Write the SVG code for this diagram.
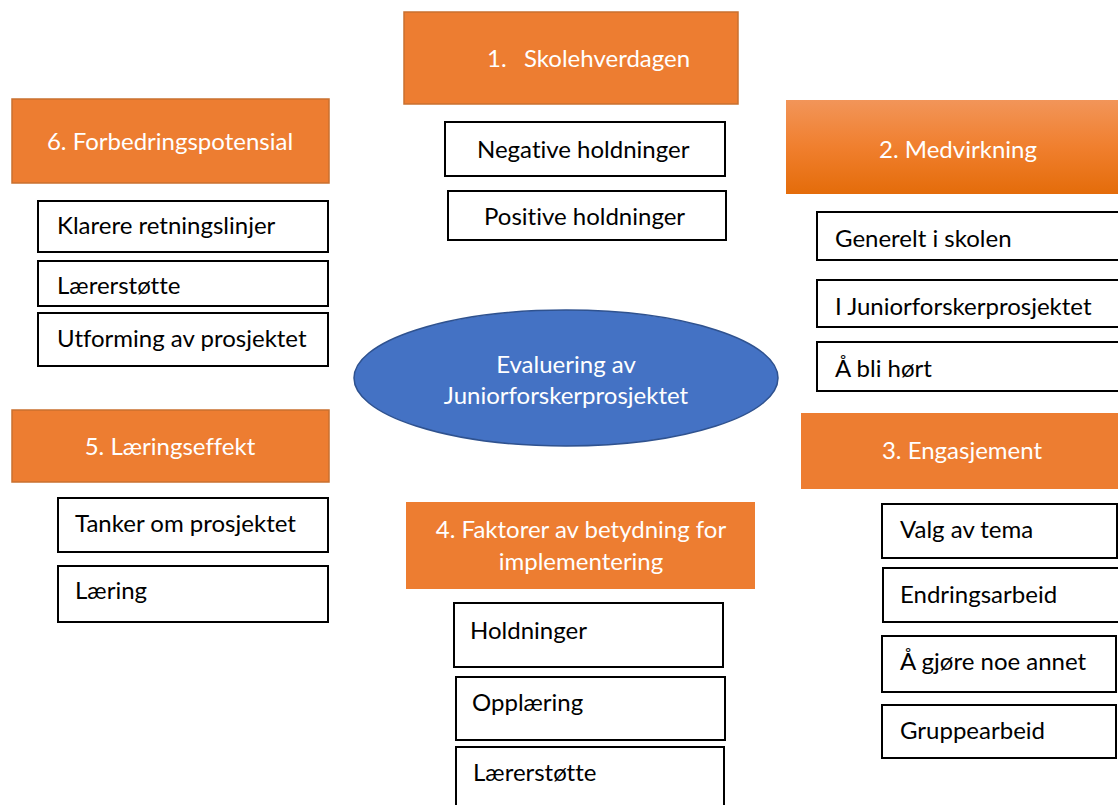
<svg xmlns="http://www.w3.org/2000/svg" width="1118" height="805" viewBox="0 0 1118 805">
<defs>
<linearGradient id="grad2" x1="0" y1="0" x2="0" y2="1">
<stop offset="0" stop-color="#F29559"/>
<stop offset="0.5" stop-color="#F07F2E"/>
<stop offset="1" stop-color="#E46C0A"/>
</linearGradient>
</defs>
<style>
.hdr{fill:#ED7D31;stroke:#C9702F;stroke-width:1.5}
.hdrn{fill:#ED7D31}
.item{fill:#FFFFFF;stroke:#000000;stroke-width:2}
.ht{font-family:Lato,"Liberation Sans",sans-serif;font-size:24px;fill:#FFFFFF;font-variant-ligatures:none}
.it{font-family:Lato,"Liberation Sans",sans-serif;font-size:24px;fill:#000000;font-variant-ligatures:none}
.c{text-anchor:middle}
</style>
<rect width="1118" height="805" fill="#FFFFFF"/>
<g id="connectors"></g>

<g id="n1">
<rect class="hdr" x="404" y="12" width="334" height="92"/>
<text class="ht" x="487" y="67">1.<tspan x="524">Skolehverdagen</tspan></text>
</g>
<g id="n1a">
<rect class="item" x="445" y="122" width="280" height="54"/>
<text class="it" x="477" y="158">Negative holdninger</text>
</g>
<g id="n1b">
<rect class="item" x="448" y="191" width="278" height="49"/>
<text class="it" x="484" y="225">Positive holdninger</text>
</g>

<g id="n2">
<rect fill="url(#grad2)" x="786" y="100" width="334" height="94"/>
<text class="ht c" x="958" y="158">2. Medvirkning</text>
</g>
<g id="n2a">
<rect class="item" x="817" y="212" width="305" height="48"/>
<text class="it" x="835" y="247">Generelt i skolen</text>
</g>
<g id="n2b">
<rect class="item" x="817" y="280" width="305" height="47"/>
<text class="it" x="835" y="315">I Juniorforskerprosjektet</text>
</g>
<g id="n2c">
<rect class="item" x="817" y="342" width="305" height="49"/>
<text class="it" x="835" y="377">Å bli hørt</text>
</g>

<g id="n6">
<rect class="hdr" x="12" y="99" width="317" height="84"/>
<text class="ht c" x="170" y="150">6. Forbedringspotensial</text>
</g>
<g id="n6a">
<rect class="item" x="38" y="201" width="290" height="51"/>
<text class="it" x="57" y="234">Klarere retningslinjer</text>
</g>
<g id="n6b">
<rect class="item" x="38" y="261" width="290" height="45"/>
<text class="it" x="57" y="294">Lærerstøtte</text>
</g>
<g id="n6c">
<rect class="item" x="38" y="313" width="290" height="53"/>
<text class="it" x="57" y="347">Utforming av prosjektet</text>
</g>

<g id="center">
<ellipse cx="566" cy="378" rx="212" ry="68" fill="#4472C4" stroke="#2F528F" stroke-width="1.5"/>
<text class="ht c" x="566" y="373">Evaluering av</text>
<text class="ht c" x="566" y="404">Juniorforskerprosjektet</text>
</g>

<g id="n5">
<rect class="hdr" x="12" y="410" width="317" height="72"/>
<text class="ht c" x="170" y="455">5. Læringseffekt</text>
</g>
<g id="n5a">
<rect class="item" x="58" y="498" width="270" height="54"/>
<text class="it" x="75" y="532">Tanker om prosjektet</text>
</g>
<g id="n5b">
<rect class="item" x="58" y="566" width="270" height="56"/>
<text class="it" x="75" y="599">Læring</text>
</g>

<g id="n3">
<rect class="hdrn" x="801" y="413" width="320" height="76"/>
<text class="ht c" x="962" y="459">3. Engasjement</text>
</g>
<g id="n3a">
<rect class="item" x="882" y="504" width="235" height="54"/>
<text class="it" x="900" y="538">Valg av tema</text>
</g>
<g id="n3b">
<rect class="item" x="883" y="568" width="236" height="54"/>
<text class="it" x="900" y="603">Endringsarbeid</text>
</g>
<g id="n3c">
<rect class="item" x="882" y="636" width="234" height="56"/>
<text class="it" x="900" y="670">Å gjøre noe annet</text>
</g>
<g id="n3d">
<rect class="item" x="882" y="705" width="234" height="53"/>
<text class="it" x="900" y="739">Gruppearbeid</text>
</g>

<g id="n4">
<rect class="hdrn" x="406" y="502" width="349" height="87"/>
<text class="ht c" x="581" y="538">4. Faktorer av betydning for</text>
<text class="ht c" x="581" y="570">implementering</text>
</g>
<g id="n4a">
<rect class="item" x="454" y="603" width="269" height="64"/>
<text class="it" x="470" y="639">Holdninger</text>
</g>
<g id="n4b">
<rect class="item" x="456" y="677" width="269" height="63"/>
<text class="it" x="472" y="711">Opplæring</text>
</g>
<g id="n4c">
<rect class="item" x="456" y="747" width="268" height="70"/>
<text class="it" x="473" y="781">Lærerstøtte</text>
</g>
</svg>
